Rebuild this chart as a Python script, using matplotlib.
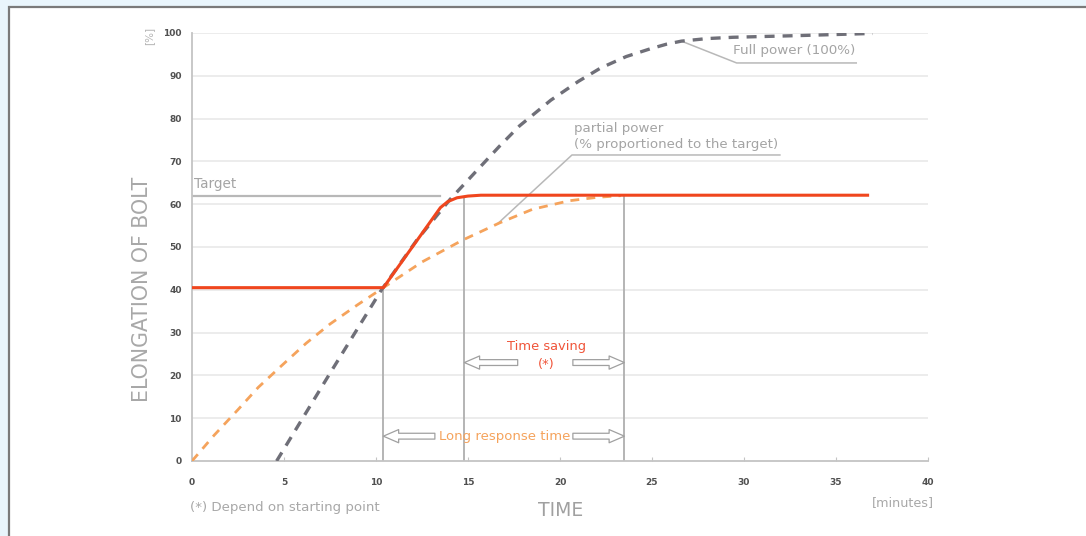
import matplotlib
matplotlib.use("Agg")
from matplotlib import pyplot as plt
from matplotlib.patches import Rectangle

# values (time in minutes, elongation in %)
red_x = [0, 10.4, 13.5, 13.9, 14.4, 15.0, 15.7, 36.8]
red_y = [40.5, 40.5, 59.2, 60.6, 61.5, 61.9, 62.1, 62.1]

full_x = [4.6, 7.5, 10.3, 12.2, 14.0, 15.4, 16.7, 17.8, 19.5, 21.0, 22.2,
          23.6, 24.9, 25.8, 26.6, 28.0, 29.4, 33.0, 37.0]
full_y = [0, 20.5, 40, 51.5, 61, 67.5, 73.5, 78.3, 84.3, 88.7, 91.8,
          94.5, 96.3, 97.4, 98.1, 98.7, 99.0, 99.4, 99.9]

part_x = [0, 1.2, 2.5, 3.6, 4.8, 6.2, 7.5, 9.0, 10.4, 12.5, 14.7, 16.7,
          18.5, 20.5, 22.0, 23.3]
part_y = [0, 6, 12, 17.2, 22, 27.5, 32, 36.5, 40.5, 46.5, 51.6, 55.6,
          58.8, 60.8, 61.6, 62]

target = 61.9
t_start, t_full, t_part = 10.4, 14.8, 23.5

x_ticks = [0, 5, 10, 15, 20, 25, 30, 35, 40]
y_ticks = [0, 10, 20, 30, 40, 50, 60, 70, 80, 90, 100]

ann_gray = "#a4a4a4"
line_gray = "#b4b4b4"

fig = plt.figure(figsize=(10.86, 5.36), dpi=100)
fig.patch.set_facecolor("#e9f5fc")
fig.patches.append(Rectangle((8.5 / 1086, -0.05), 1.1, 1.05 - 7.5 / 536 + 0.001,
                             transform=fig.transFigure, facecolor="white",
                             edgecolor="#7a7a7a", linewidth=1.6, zorder=-10))

ax = fig.add_axes([192 / 1086, 75 / 536, 736 / 1086, 428 / 536])
ax.set_zorder(1)
ax.set_facecolor("none")
ax.set_xlim(0, 40)
ax.set_ylim(0, 100)

for yv in y_ticks[1:]:
    ax.axhline(yv, color="#ebebeb", lw=1.3, zorder=0)

for s in ["top", "right"]:
    ax.spines[s].set_visible(False)
for s in ["left", "bottom"]:
    ax.spines[s].set_color("#c4c4c4")
    ax.spines[s].set_linewidth(1.3)

ax.set_xticks(x_ticks)
ax.set_yticks(y_ticks)
ax.tick_params(axis="x", direction="in", length=3, color="#c4c4c4", pad=12,
               labelsize=6.5, labelcolor="#505050")
ax.tick_params(axis="y", length=0, pad=7.5, labelsize=6.5, labelcolor="#505050")
for lab in ax.get_xticklabels() + ax.get_yticklabels():
    lab.set_fontweight("bold")

# vertical markers and target line
ax.plot([t_start, t_start], [0, 40.5], color=line_gray, lw=1.4, zorder=1)
ax.plot([t_full, t_full], [0, 61.4], color=line_gray, lw=1.4, zorder=1)
ax.plot([t_part, t_part], [0, 61.8], color=line_gray, lw=1.4, zorder=1)
ax.plot([0, 13.5], [target, target], color="#b8b8b8", lw=1.6, zorder=1)
ax.text(0.1, 63.0, "Target", color=ann_gray, fontsize=9.8, va="bottom")

# curves
ax.plot(part_x, part_y, color="#f5a35c", lw=2, dashes=(3.2, 2.6), zorder=3)
ax.plot(full_x, full_y, color="#6f6f78", lw=2.4, dashes=(3.0, 2.4), zorder=3)
ax.plot(red_x, red_y, color="#f0461e", lw=2.2, zorder=4, solid_capstyle="butt")

# leader lines + labels
ax.plot([26.6, 29.6, 36.1], [98.1, 93.0, 93.0], color="#b8b8b8", lw=1.1)
ax.text(29.4, 95.9, "Full power (100%)", color=ann_gray, fontsize=9.7,
        va="center")
ax.plot([16.6, 20.65, 31.95], [55.4, 71.5, 71.5], color="#b8b8b8", lw=1.1)
ax.text(20.75, 72.4, "partial power\n(% proportioned to the target)",
        color=ann_gray, fontsize=9.6, va="bottom", linespacing=1.3)

# hollow arrows
arrow = dict(arrowstyle="simple,head_length=1.1,head_width=0.95,tail_width=0.42",
             fc="white", ec="#a0a0a0", lw=0.9, shrinkA=0, shrinkB=0,
             mutation_scale=10)
ax.annotate("", xy=(t_start, 5.8), xytext=(13.2, 5.8), arrowprops=arrow)
ax.annotate("", xy=(t_part, 5.8), xytext=(20.7, 5.8), arrowprops=arrow)
ax.text(17.0, 5.8, "Long response time", color="#f5a35c", fontsize=9.5,
        ha="center", va="center")

ax.annotate("", xy=(t_full, 23.0), xytext=(17.7, 23.0), arrowprops=arrow)
ax.annotate("", xy=(t_part, 23.0), xytext=(20.7, 23.0), arrowprops=arrow)
ax.text(19.25, 26.8, "Time saving", color="#f0553a", fontsize=9.4,
        ha="center", va="center")
ax.text(19.25, 22.6, "(*)", color="#f0553a", fontsize=9.4,
        ha="center", va="center")

# axis titles
fig.text(142 / 1086, 1 - 289 / 536, "ELONGATION OF BOLT", rotation=90,
         color="#a8a8a8", fontsize=14.8, ha="center", va="center")
fig.text(149 / 1086, 1 - 36 / 536, "[%]", rotation=90, color="#b4b4b4",
         fontsize=7.5, ha="center", va="center")
fig.text(561 / 1086, 1 - 511 / 536, "TIME", color="#a0a0a0", fontsize=13.5,
         ha="center", va="center")
fig.text(903 / 1086, 1 - 503 / 536, "[minutes]", color="#a8a8a8", fontsize=9.2,
         ha="center", va="center")
fig.text(190 / 1086, 1 - 507 / 536, "(*) Depend on starting point",
         color="#a8a8a8", fontsize=9.6, ha="left", va="center")

fig.savefig("out.png", dpi=100, facecolor=fig.get_facecolor())
